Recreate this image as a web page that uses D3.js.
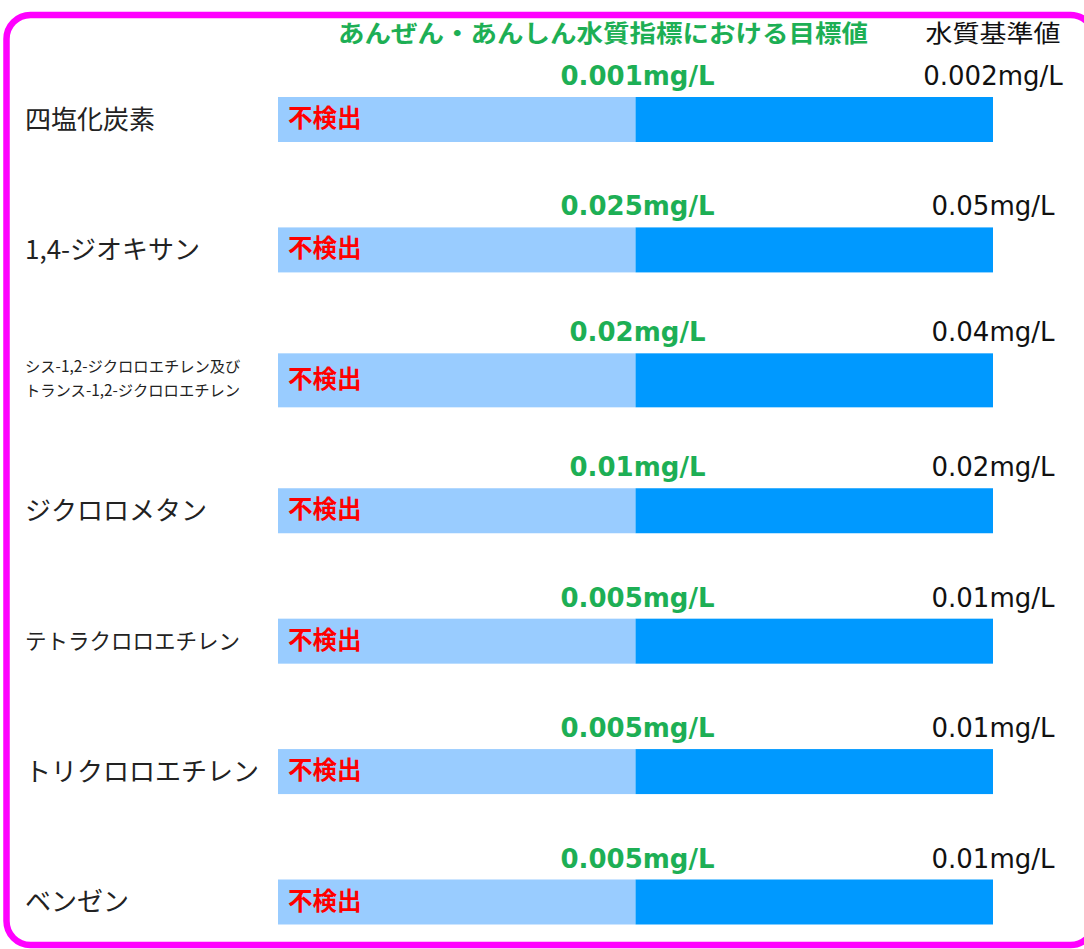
<!DOCTYPE html>
<html><head><meta charset="utf-8">
<script src="https://cdn.jsdelivr.net/npm/d3@7"></script>
<style>html,body{margin:0;padding:0;background:#fff;}svg{display:block;}</style>
</head><body>
<script>
const categories = [
  ["四塩化炭素"],
  ["1,4-ジオキサン"],
  ["シス-1,2-ジクロロエチレン及び", "トランス-1,2-ジクロロエチレン"],
  ["ジクロロメタン"],
  ["テトラクロロエチレン"],
  ["トリクロロエチレン"],
  ["ベンゼン"]
];
const targetValues = [0.001, 0.025, 0.02, 0.01, 0.005, 0.005, 0.005];
const standardValues = [0.002, 0.05, 0.04, 0.02, 0.01, 0.01, 0.01];
const targetLabels = ["0.001mg/L", "0.025mg/L", "0.02mg/L", "0.01mg/L", "0.005mg/L", "0.005mg/L", "0.005mg/L"];
const standardLabels = ["0.002mg/L", "0.05mg/L", "0.04mg/L", "0.02mg/L", "0.01mg/L", "0.01mg/L", "0.01mg/L"];
const resultLabel = "不検出";
const titleTarget = "あんぜん・あんしん水質指標における目標値";
const titleStandard = "水質基準値";

const W = 1084, H = 949;
const svg = d3.select("body").append("svg").attr("width", W).attr("height", H);
const font = "'Noto Sans CJK JP', 'Noto Sans', sans-serif";
const numFont = "'DejaVu Sans', Verdana, sans-serif";

svg.append("rect").attr("x", 6.5).attr("y", 15).attr("width", 1088).attr("height", 930)
  .attr("rx", 24).attr("fill", "#fff").attr("stroke", "#FF00FF").attr("stroke-width", 6.5);

const y = d3.scalePoint().domain(d3.range(categories.length)).range([119.5, 902]);
const barH = i => categories[i].length > 1 ? 54 : 45;
const x0 = 278, x1 = 993;

svg.append("text").attr("x", 603).attr("y", 42).attr("text-anchor", "middle")
  .attr("font-family", font).attr("font-weight", "bold").attr("font-size", 24)
  .attr("fill", "#1DAF55").attr("textLength", 530).attr("lengthAdjust", "spacingAndGlyphs")
  .text(titleTarget);
svg.append("text").attr("x", 993).attr("y", 42).attr("text-anchor", "middle")
  .attr("font-family", font).attr("font-size", 24).attr("fill", "#111")
  .attr("textLength", 135).attr("lengthAdjust", "spacingAndGlyphs")
  .text(titleStandard);

categories.forEach((cat, i) => {
  const xs = d3.scaleLinear().domain([0, standardValues[i]]).range([x0, x1]);
  const cy = y(i), h = barH(i), top = cy - h / 2;
  const g = svg.append("g");
  g.append("rect").attr("x", xs(0)).attr("y", top).attr("width", xs(targetValues[i]) - xs(0)).attr("height", h).attr("fill", "#99CCFF");
  g.append("rect").attr("x", xs(targetValues[i])).attr("y", top).attr("width", xs(standardValues[i]) - xs(targetValues[i])).attr("height", h).attr("fill", "#0099FF");
  g.append("text").attr("x", 288).attr("y", cy + 7.5).attr("font-family", font).attr("font-weight", "bold")
    .attr("font-size", 24.5).attr("fill", "#FF0000").text(resultLabel);
  g.append("text").attr("x", xs(targetValues[i]) + 2).attr("y", top - 12).attr("text-anchor", "middle")
    .attr("font-family", numFont).attr("font-weight", "bold").attr("font-size", 26).attr("fill", "#1DAF55")
    .text(targetLabels[i]);
  g.append("text").attr("x", xs(standardValues[i])).attr("y", top - 12).attr("text-anchor", "middle")
    .attr("font-family", numFont).attr("font-size", 26).attr("fill", "#111")
    .text(standardLabels[i]);
  if (cat.length > 1) {
    cat.forEach((line, k) => {
      g.append("text").attr("x", 25).attr("y", cy - 8 + k * 24).attr("font-family", font)
        .attr("font-size", 15.3).attr("fill", "#222").text(line);
    });
  } else {
    const fs = cat[0].length >= 10 ? 21.5 : 26;
    g.append("text").attr("x", 25).attr("y", cy + fs * 0.36).attr("font-family", font)
      .attr("font-size", fs).attr("fill", "#222").text(cat[0]);
  }
});
</script>
</body></html>
